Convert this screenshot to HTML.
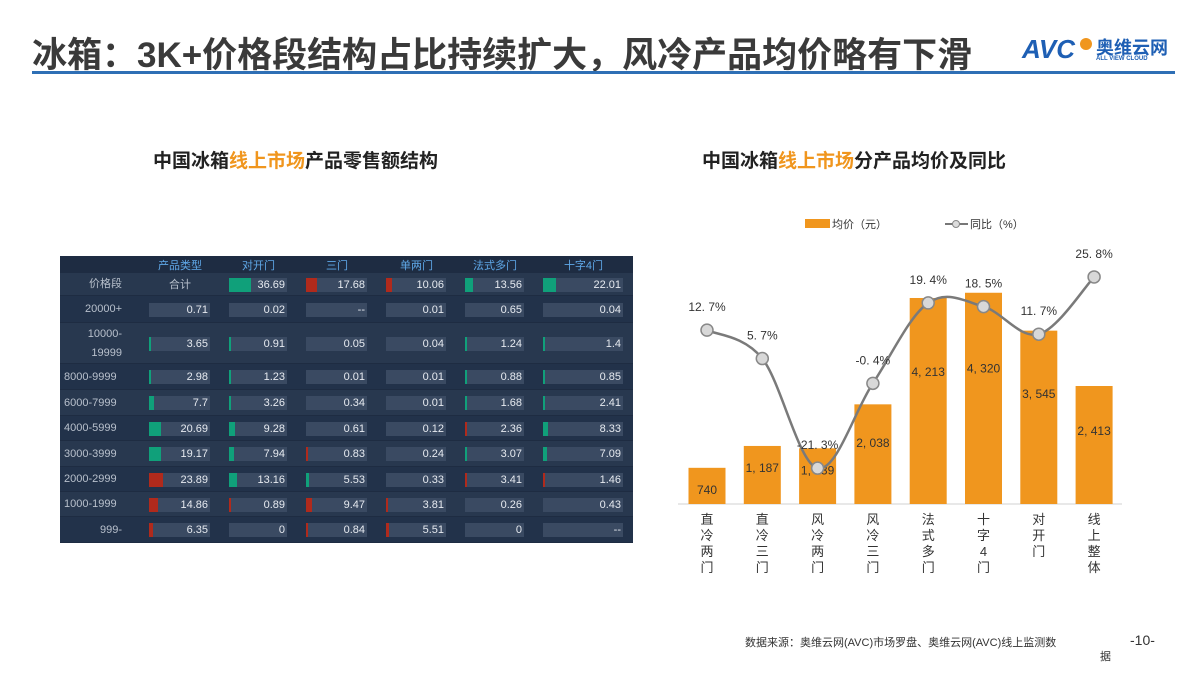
<!DOCTYPE html>
<html><head><meta charset="utf-8">
<style>
body{margin:0;width:1200px;height:675px;background:#fff;position:relative;overflow:hidden;font-family:"Liberation Sans","Noto Sans CJK SC",sans-serif;}
.abs{position:absolute;}
#title{left:32px;top:27px;font-size:35px;font-weight:bold;color:#3a3a3a;letter-spacing:0px;white-space:nowrap;}
#rule{left:32px;top:71px;width:1143px;height:3px;background:#2e6fb5;}
.ct{font-size:19px;font-weight:bold;color:#222;white-space:nowrap;}
.ct span{color:#f0961e;}
#tbl{left:60px;top:256px;width:573px;height:287px;background:#1e2c42;}
.cell{position:absolute;color:#d8dde6;font-size:11px;}
</style></head><body>
<div id="title" class="abs">冰箱：3K+价格段结构占比持续扩大，风冷产品均价略有下滑</div>
<div id="rule" class="abs"></div>
<div class="abs" style="left:1022px;top:34px;width:150px;height:30px;">
 <div style="position:absolute;left:0;top:0;font-size:26px;font-weight:bold;font-style:italic;color:#1e5fb4;">AVC</div>
 <div style="position:absolute;left:58px;top:4px;width:12px;height:12px;border-radius:50%;background:#f0961e;"></div>
 <div style="position:absolute;left:74px;top:0;font-size:18px;font-weight:bold;color:#1e5fb4;">奥维云网</div>
 <div style="position:absolute;left:74px;top:22px;font-size:6px;font-weight:bold;color:#1e5fb4;">ALL VIEW CLOUD</div>
</div>

<div class="abs ct" style="left:153px;top:146px;">中国冰箱<span>线上市场</span>产品零售额结构</div>
<div class="abs ct" style="left:702px;top:146px;">中国冰箱<span>线上市场</span>分产品均价及同比</div>

<div id="tbl" class="abs"></div>

<svg class="abs" style="left:0;top:0" width="1200" height="675" id="chart"></svg>

<div class="abs" style="left:745px;top:636px;font-size:11px;color:#333;width:370px;line-height:14px;">数据来源：奥维云网(AVC)市场罗盘、奥维云网(AVC)线上监测数<br><span style="margin-left:355px">据</span></div>
<div class="abs" style="left:1130px;top:632px;font-size:14px;color:#333;">-10-</div>

<script>
const colHeaders=['产品类型','对开门','三门','单两门','法式多门','十字4门'];
const rowLabels=['价格段','20000+','10000-\n19999','8000-9999','6000-7999','4000-5999','3000-3999','2000-2999','1000-1999','999-'];
const tblValues=[
 ['合计','36.69','17.68','10.06','13.56','22.01'],
 ['0.71','0.02','--','0.01','0.65','0.04'],
 ['3.65','0.91','0.05','0.04','1.24','1.4'],
 ['2.98','1.23','0.01','0.01','0.88','0.85'],
 ['7.7','3.26','0.34','0.01','1.68','2.41'],
 ['20.69','9.28','0.61','0.12','2.36','8.33'],
 ['19.17','7.94','0.83','0.24','3.07','7.09'],
 ['23.89','13.16','5.53','0.33','3.41','1.46'],
 ['14.86','0.89','9.47','3.81','0.26','0.43'],
 ['6.35','0','0.84','5.51','0','--']];
const tblColors=[
 ['','g','r','r','g','g'],
 ['','','','','',''],
 ['g','g','','','g','g'],
 ['g','g','','','g','g'],
 ['g','g','','','g','g'],
 ['g','g','','','r','g'],
 ['g','g','r','','g','g'],
 ['r','g','g','','r','r'],
 ['r','r','r','r','',''],
 ['r','','r','r','','']];
const tbl=document.getElementById('tbl');
const colX=[0,80,160,237,317,396,474,573];
const rowY=[0,17,40,67,108,134,160,185,211,236,261,287];
colHeaders.forEach((h,i)=>{
 const d=document.createElement('div');
 d.className='cell';
 
 
 d.style.cssText=`left:${colX[i+1]}px;top:1px;width:${colX[i+2]-colX[i+1]}px;text-align:center;color:#5fa8e8;`;
 d.textContent=h;tbl.appendChild(d);
});
rowLabels.forEach((lab,r)=>{
 const y0=rowY[r+1],y1=rowY[r+2],h=y1-y0;
 const bg=document.createElement('div');
 
 
 bg.style.cssText=`position:absolute;left:0;top:${y0}px;width:573px;height:${h-1}px;background:${r%2?'#22324a':'#28384f'};`;
 tbl.appendChild(bg);
 const l=document.createElement('div');
 l.className='cell';
 
 
 const centered=(r<3||r==9);
 const two=lab.includes('\n');
 l.style.cssText=`left:${centered?0:4}px;top:${two?y0+2:y0}px;width:${centered?62:76}px;text-align:${centered?'right':'left'};white-space:pre;line-height:${two?19:h}px;color:#b8c0cc;`;
 l.textContent=lab;tbl.appendChild(l);
 tblValues[r].forEach((v,c)=>{
  const x0=colX[c+1],w=colX[c+2]-x0;
  const cy=y0+(h-14)/2;
  if(r===0&&c===0){
   const t=document.createElement('div');t.className='cell';
   
   
   t.style.cssText=`left:${x0}px;top:${cy-2}px;width:${w}px;text-align:center;color:#b8c0cc;`;
   t.textContent=v;tbl.appendChild(t);return;
  }
  const box=document.createElement('div');
  
  
  box.style.cssText=`position:absolute;left:${x0+9}px;top:${cy}px;width:${w-19}px;height:14px;background:#3a4a62;`;
  tbl.appendChild(box);
  const col=tblColors[r][c];
  const num=parseFloat(v);
  if(col&&!isNaN(num)){
   const b=document.createElement('div');
   
   
   b.style.cssText=`position:absolute;left:${x0+9}px;top:${cy}px;width:${Math.max(2,num*0.6)}px;height:14px;background:${col=='g'?'#10a07a':'#b02a1c'};`;
   tbl.appendChild(b);
  }
  const t=document.createElement('div');t.className='cell';
  
  
  t.style.cssText=`left:${x0}px;top:${cy}px;width:${w-12}px;text-align:right;color:#e6eaf0;line-height:14px;`;
  t.textContent=v;tbl.appendChild(t);
 });
});
</script>
<script>
const categories=['直冷两门','直冷三门','风冷两门','风冷三门','法式多门','十字4门','对开门','线上整体'];
const avgPrice=[740,1187,1139,2038,4213,4320,3545,2413];
const priceLabels=['740','1, 187','1, 139','2, 038','4, 213','4, 320','3, 545','2, 413'];
const yoy=[12.7,5.7,-21.3,-0.4,19.4,18.5,11.7,25.8];
const yoyLabels=['12. 7%','5. 7%','-21. 3%','-0. 4%','19. 4%','18. 5%','11. 7%','25. 8%'];
const svg=document.getElementById('chart');
const NS='http://www.w3.org/2000/svg';
const x0=707,dx=55.3,base=504,bw=37;
const xPos=i=>x0+i*dx;
const yPrice=v=>base-v*0.0489;
const yPct=p=>381.7-p*4.06;
function mk(tag,attrs){const e=document.createElementNS(NS,tag);for(const k in attrs)e.setAttribute(k,attrs[k]);svg.appendChild(e);return e;}
let e=mk('rect',{x:805,y:219,width:25,height:9,fill:'#f0961e'});


e=mk('text',{x:832,y:228,'font-size':11,fill:'#333'});e.textContent='均价（元）';


e=mk('line',{x1:945,y1:224,x2:968,y2:224,stroke:'#777','stroke-width':2});


e=mk('circle',{cx:956,cy:224,r:3.5,fill:'#ddd',stroke:'#888'});


e=mk('text',{x:970,y:228,'font-size':11,fill:'#333'});e.textContent='同比（%）';


e=mk('line',{x1:678,y1:base,x2:1122,y2:base,stroke:'#d0d0d0','stroke-width':1});


avgPrice.forEach((v,i)=>{
 const r=mk('rect',{x:xPos(i)-bw/2,y:yPrice(v),width:bw,height:base-yPrice(v),fill:'#f0961e'});
 
 
 const ly=i===0?yPrice(v)+26:yPrice(v)+(base-yPrice(v))*0.33+10;
 const t=mk('text',{x:xPos(i),y:i<3?yPrice(v)+26:ly,'text-anchor':'middle','font-size':12,fill:'#333'});
 t.textContent=priceLabels[i];
 
 
 const chars=categories[i].split('');
 chars.forEach((ch,k)=>{
  const c=mk('text',{x:xPos(i),y:524+k*16,'text-anchor':'middle','font-size':13,fill:'#333'});
  c.textContent=ch;
  
  
 });
});
const pts=yoy.map((p,i)=>[xPos(i),yPct(p)]);
let d='M'+pts[0][0]+','+pts[0][1];
for(let i=0;i<pts.length-1;i++){
 const p0=pts[i-1]||pts[i],p1=pts[i],p2=pts[i+1],p3=pts[i+2]||p2,t=0.17;
 const c1=[p1[0]+(p2[0]-p0[0])*t,p1[1]+(p2[1]-p0[1])*t];
 const c2=[p2[0]-(p3[0]-p1[0])*t,p2[1]-(p3[1]-p1[1])*t];
 d+=` C${c1[0]},${c1[1]} ${c2[0]},${c2[1]} ${p2[0]},${p2[1]}`;
}
e=mk('path',{d:d,fill:'none',stroke:'#7a7a7a','stroke-width':2.5});


yoy.forEach((p,i)=>{
 const c=mk('circle',{cx:xPos(i),cy:yPct(p),r:6,fill:'#d8d8d8',stroke:'#888','stroke-width':1.5});
 
 
 const t=mk('text',{x:xPos(i),y:yPct(p)-19,'text-anchor':'middle','font-size':12,fill:'#333'});
 t.textContent=yoyLabels[i];
 
 
});
</script>
</body></html>
